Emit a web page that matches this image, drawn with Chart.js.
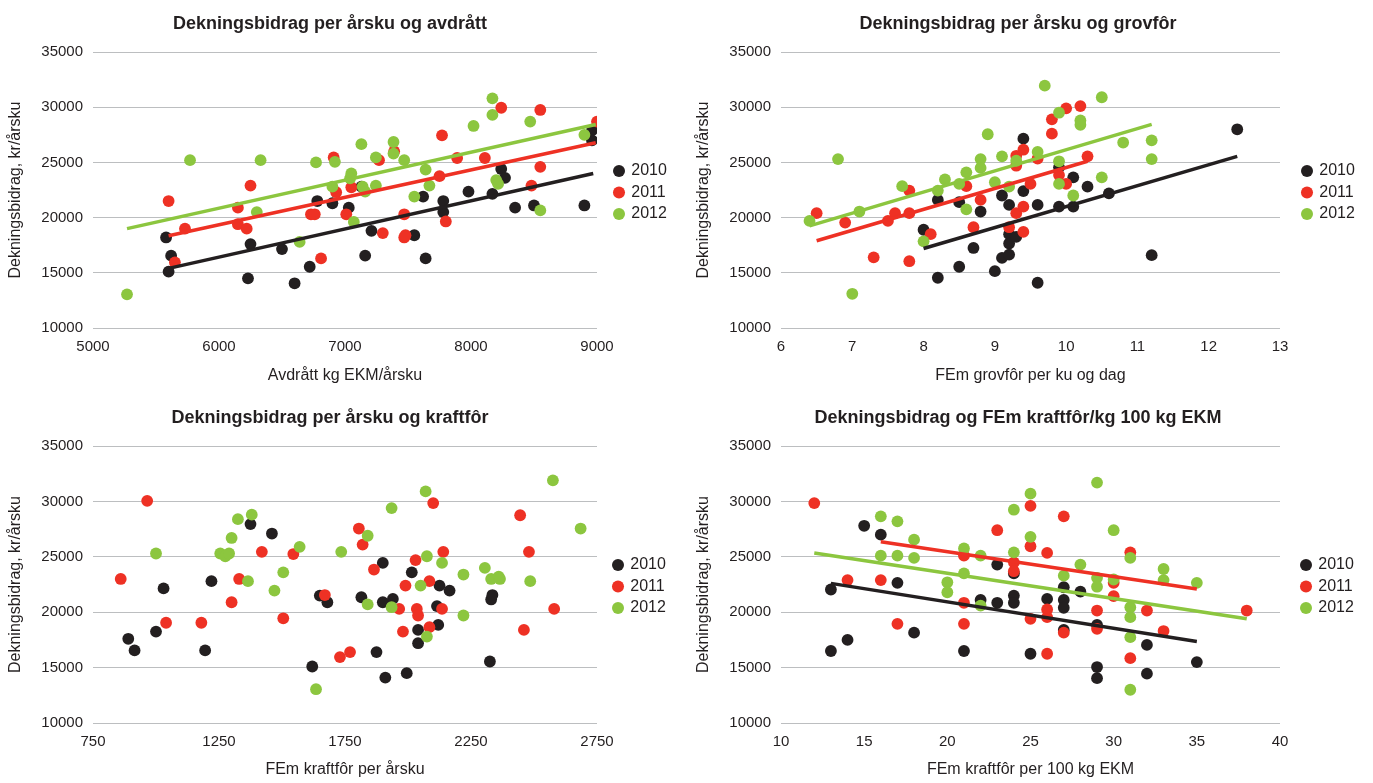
<!DOCTYPE html>
<html lang="no">
<head>
<meta charset="utf-8">
<title>Dekningsbidrag per årsku</title>
<script src="https://cdn.jsdelivr.net/npm/chart.js@4.4.1/dist/chart.umd.min.js"></script>
<style>
  html, body { margin: 0; padding: 0; background: #fff; overflow: hidden; }
  body { width: 1373px; height: 783px; position: relative; }
  canvas { position: absolute; }
</style>
</head>
<body>
<canvas id="c1" width="684" height="392"></canvas>
<canvas id="c2" width="684" height="392"></canvas>
<canvas id="c3" width="684" height="392"></canvas>
<canvas id="c4" width="684" height="392"></canvas>
<script>
const years = ['2010', '2011', '2012']
const colors = ['#231f20', '#ee3124', '#8cc63f']
const yTicks = [10000, 15000, 20000, 25000, 30000, 35000]

// Avdrått kg EKM/årsku
const avd2010 = [[5580,18200],[5620,16550],[5600,15100],[6230,14500],[6250,17600],[6500,17150],[6600,14050],[6720,15550],[6780,21500],[6900,21300],[7030,20900],[7130,22800],[7210,18800],[7160,16550],[7550,18400],[7620,21900],[7640,16300],[7780,21500],[7780,20500],[7980,22350],[8170,22150],[8240,24400],[8270,23600],[8350,20900],[8500,21100],[8900,21100],[8960,27900],[8960,27000]]
const avd2011 = [[5600,21500],[5650,15950],[5730,19000],[6150,20900],[6150,19400],[6220,19000],[6250,22900],[6730,20300],[6760,20300],[6810,16300],[6910,25450],[6930,22300],[7010,20300],[7050,22750],[7270,25200],[7300,18600],[7390,26000],[7470,20300],[7470,18200],[7480,18400],[7750,23750],[7770,27450],[7800,19650],[7890,25400],[8110,25400],[8240,29950],[8480,22900],[8550,29750],[8550,24600],[9000,28700]]
const avd2012 = [[5270,13050],[5770,25200],[6300,20500],[6330,25200],[6640,17800],[6770,25000],[6900,22800],[6920,25050],[7050,24000],[7040,23550],[7070,19600],[7130,26650],[7140,22800],[7160,22350],[7245,22900],[7245,25450],[7385,26850],[7385,25800],[7470,25200],[7550,21900],[7640,24350],[7670,22900],[8020,28300],[8170,30800],[8170,29300],[8200,23400],[8215,23050],[8470,28700],[8550,20650],[8900,27500]]
const avdTrend2010 = [[5600,15400],[8970,24000]]
const avdTrend2011 = [[5600,18350],[8990,26780]]
const avdTrend2012 = [[5270,19000],[8990,28430]]

// FEm grovfôr per ku og dag
const grov2010 = [[8.0,18900],[8.2,21600],[8.2,14550],[8.5,21400],[8.5,15550],[8.7,17250],[8.8,20550],[9.0,15150],[9.1,16350],[9.1,22000],[9.2,21150],[9.2,18500],[9.2,17650],[9.2,16650],[9.3,18250],[9.4,27150],[9.4,22400],[9.6,21150],[9.6,14100],[9.9,24550],[9.9,21000],[10.1,23650],[10.1,21000],[10.3,22800],[10.6,22200],[11.2,16600],[12.4,28000]]
const grov2011 = [[6.5,20400],[6.9,19550],[7.3,16400],[7.5,19700],[7.6,20400],[7.8,22450],[7.8,20400],[7.8,16050],[8.1,18500],[8.6,22850],[8.8,21600],[8.7,19130],[9.2,19130],[9.3,25600],[9.3,24700],[9.3,20400],[9.4,26150],[9.4,21000],[9.4,18700],[9.5,23050],[9.6,25350],[9.8,28900],[9.8,27600],[9.9,23850],[10.0,29900],[10.0,23050],[10.2,30100],[10.3,25550]]
const grov2012 = [[6.4,19700],[6.8,25300],[7.0,13100],[7.1,20550],[7.7,22850],[8.0,17850],[8.2,22450],[8.3,23450],[8.5,23050],[8.6,24100],[8.6,20750],[8.8,25300],[8.8,24500],[8.9,27550],[9.0,23200],[9.1,25550],[9.2,22800],[9.3,25150],[9.6,25950],[9.7,31950],[9.9,29500],[9.9,25100],[9.9,23050],[10.1,22000],[10.2,28800],[10.2,28400],[10.5,30900],[10.5,23650],[10.8,26800],[11.2,27000],[11.2,25300]]
const grovTrend2010 = [[8.0,17200],[12.4,25550]]
const grovTrend2011 = [[6.5,17900],[10.3,25100]]
const grovTrend2012 = [[6.4,19250],[11.2,28450]]

// FEm kraftfôr per årsku
const kraft2010 = [[890,17600],[915,16550],[1000,18250],[1030,22150],[1195,16550],[1220,22800],[1375,27950],[1460,27100],[1620,15100],[1650,21500],[1680,20900],[1815,21350],[1875,16400],[1900,24450],[1900,20900],[1910,14100],[1940,21200],[1995,14500],[2015,23600],[2040,18400],[2040,17200],[2115,20550],[2120,18850],[2125,22400],[2165,21950],[2325,15550],[2330,21150],[2335,21550]]
const kraft2011 = [[860,23000],[965,30050],[1040,19050],[1180,19050],[1300,20900],[1330,23000],[1420,25450],[1505,19450],[1545,25250],[1670,21550],[1730,15950],[1770,16400],[1805,27550],[1820,26100],[1865,23850],[1965,20300],[1980,18250],[1990,22400],[2030,24700],[2035,20300],[2040,19700],[2085,22800],[2085,18650],[2100,29850],[2140,25450],[2135,20300],[2445,28750],[2460,18400],[2480,25450],[2580,20300]]
const kraft2012 = [[1000,25300],[1255,25300],[1275,25050],[1290,25300],[1300,26700],[1325,28400],[1380,28800],[1365,22800],[1470,21950],[1505,23600],[1570,25900],[1635,13050],[1735,25450],[1840,26900],[1840,20700],[1935,29400],[1935,20450],[2050,22400],[2070,30900],[2075,25050],[2075,17800],[2135,24450],[2220,23400],[2220,19700],[2305,24000],[2330,23000],[2360,23200],[2365,23000],[2485,22800],[2575,31900],[2685,27550]]

// FEm kraftfôr per 100 kg EKM
const ekm2010 = [[13,22050],[13,16500],[14,17500],[15,27800],[16,27000],[17,22650],[18,18150],[21,16500],[22,21100],[23,20850],[23,24300],[24,23500],[24,21500],[24,20850],[25,16250],[26,21200],[27,22250],[27,21100],[27,20400],[27,18400],[28,21850],[29,18850],[29,15050],[29,14050],[32,17050],[32,14450],[35,15500]]
const ekm2011 = [[12,29850],[14,22900],[16,22900],[17,18950],[21,25100],[21,20850],[21,18950],[23,27400],[24,24500],[24,23700],[25,29600],[25,25950],[25,19400],[26,25350],[26,20250],[26,19550],[26,16250],[27,28650],[27,18150],[29,20150],[29,18500],[30,22650],[30,21450],[31,25400],[31,15850],[32,20150],[33,18300],[38,20150]]
const ekm2012 = [[16,28650],[16,25100],[17,28200],[17,25100],[18,26550],[18,24900],[20,22700],[20,21800],[21,25750],[21,23500],[22,25100],[22,20600],[24,29250],[24,25400],[25,30700],[25,26800],[27,23300],[28,24300],[29,31700],[29,23100],[29,22300],[30,27400],[30,22950],[31,24900],[31,20450],[31,19550],[31,17750],[31,13000],[33,23900],[33,22900],[35,22650]]
const ekmTrend2010 = [[13,22600],[35,17350]]
const ekmTrend2011 = [[16,26350],[35,22100]]
const ekmTrend2012 = [[12,25350],[38,19400]]

const panels = [
  {
    id: 'c1', x0: -12, y0: 0, area: { l: 93, r: 597, t: 52, b: 328 }, dot: 619,
    title: 'Dekningsbidrag per årsku og avdrått', xTitle: 'Avdrått kg EKM/årsku',
    xMin: 5000, xMax: 9000, xStep: 1000,
    points: [avd2010, avd2011, avd2012], trends: [avdTrend2010, avdTrend2011, avdTrend2012],
  },
  {
    id: 'c2', x0: 676, y0: 0, area: { l: 781, r: 1280, t: 52, b: 328 }, dot: 1307,
    title: 'Dekningsbidrag per årsku og grovfôr', xTitle: 'FEm grovfôr per ku og dag',
    xMin: 6, xMax: 13, xStep: 1,
    points: [grov2010, grov2011, grov2012], trends: [grovTrend2010, grovTrend2011, grovTrend2012],
  },
  {
    id: 'c3', x0: -12, y0: 394, area: { l: 93, r: 597, t: 446, b: 723 }, dot: 618,
    title: 'Dekningsbidrag per årsku og kraftfôr', xTitle: 'FEm kraftfôr per årsku',
    xMin: 750, xMax: 2750, xStep: 500,
    points: [kraft2010, kraft2011, kraft2012], trends: [],
  },
  {
    id: 'c4', x0: 676, y0: 394, area: { l: 781, r: 1280, t: 446, b: 723 }, dot: 1306,
    title: 'Dekningsbidrag og FEm kraftfôr/kg 100 kg EKM', xTitle: 'FEm kraftfôr per 100 kg EKM',
    xMin: 10, xMax: 40, xStep: 5,
    points: [ekm2010, ekm2011, ekm2012], trends: [ekmTrend2010, ekmTrend2011, ekmTrend2012],
  },
]

const FONT = "'Liberation Sans', Arial, Helvetica, sans-serif"
const TEXT = '#231f20'
Chart.defaults.font.family = FONT
Chart.defaults.color = TEXT

const toXY = (pts) => pts.map(([x, y]) => ({ x, y }))

// legend sits a bit away from the plot, like the original
function legendSpot(width, dx, dy) {
  return {
    id: 'legendSpot',
    beforeLayout(chart) {
      const legend = chart.legend
      if (!legend || legend._spotted) return
      const fit = legend.fit
      legend.fit = function () {
        fit.call(this)
        this.width = width
      }
      legend._spotted = true
    },
    afterLayout(chart) {
      chart.legend.left += dx
      chart.legend.top += dy
    },
  }
}

function build(p) {
  const cv = document.getElementById(p.id)
  cv.style.left = p.x0 + 'px'
  cv.style.top = p.y0 + 'px'
  const W = cv.width
  const H = cv.height

  const datasets = p.points.map((pts, i) => ({
    label: years[i],
    data: toXY(pts),
    backgroundColor: colors[i],
    borderColor: colors[i],
    borderWidth: 0,
    pointRadius: 5.9,
    pointHoverRadius: 5.9,
    order: 3 - i,
  }))
  p.trends.forEach((pts, i) => {
    datasets.push({
      label: 'trend ' + years[i],
      data: toXY(pts),
      showLine: true,
      borderColor: colors[i],
      backgroundColor: colors[i],
      borderWidth: 3.5,
      pointRadius: 0,
      order: 0,
    })
  })

  const legendW = p.x0 + W - p.area.r
  const dx = p.dot - p.area.r - 9.75
  const dy = (p.area.t - p.y0) + 119 - 13.5

  return new Chart(cv, {
    type: 'scatter',
    data: { datasets },
    plugins: [legendSpot(legendW, dx, dy)],
    options: {
      responsive: false,
      animation: false,
      layout: { padding: 0 },
      plugins: {
        tooltip: { enabled: false },
        title: {
          display: true,
          text: p.title,
          color: TEXT,
          font: { size: 18, weight: 'bold', family: FONT },
          padding: { top: 13.2, bottom: 17.2 },
        },
        legend: {
          position: 'right',
          align: 'start',
          labels: {
            usePointStyle: true,
            pointStyle: 'circle',
            boxWidth: 8.5,
            boxHeight: 8.5,
            padding: 5.5,
            color: TEXT,
            font: { size: 16, family: FONT },
            filter: (item) => item.datasetIndex < 3,
            sort: (a, b) => a.datasetIndex - b.datasetIndex,
          },
        },
      },
      scales: {
        x: {
          type: 'linear',
          min: p.xMin,
          max: p.xMax,
          grid: { display: false, drawTicks: false },
          border: { display: false },
          ticks: {
            stepSize: p.xStep,
            padding: 10,
            color: TEXT,
            font: { size: 15 },
            maxRotation: 0,
            callback: (v) => String(v),
          },
          title: {
            display: true,
            text: p.xTitle,
            color: TEXT,
            font: { size: 16 },
            padding: { top: 0, bottom: 7 },
          },
          afterFit: (s) => { s.height = p.y0 + H - p.area.b },
        },
        y: {
          type: 'linear',
          min: yTicks[0],
          max: yTicks[yTicks.length - 1],
          grid: { color: '#bcbec0', lineWidth: 1, drawTicks: false },
          border: { display: false },
          afterBuildTicks: (s) => { s.ticks = yTicks.map((v) => ({ value: v })) },
          ticks: {
            padding: 10,
            color: TEXT,
            font: { size: 15 },
            callback: (v) => String(v),
          },
          title: {
            display: true,
            text: 'Dekningsbidrag, kr/årsku',
            color: TEXT,
            font: { size: 16 },
            padding: { top: 18, bottom: 0 },
          },
          afterFit: (s) => { s.width = p.area.l - p.x0 },
        },
      },
    },
  })
}

panels.forEach(build)
</script>
</body>
</html>
